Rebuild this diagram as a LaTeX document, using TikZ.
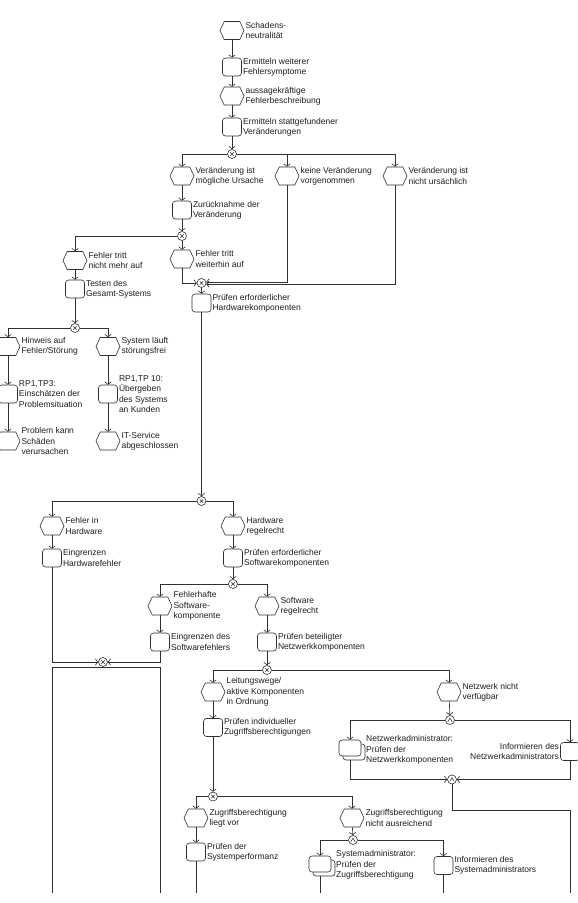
\documentclass[tikz,border=0pt]{standalone}
\usepackage{fontspec}
\setmainfont{Liberation Sans}
\usetikzlibrary{arrows.meta,shapes.symbols}
\definecolor{lc}{HTML}{303030}
\definecolor{tc}{HTML}{1E1E1E}
\newcommand{\epcfont}{\fontsize{8.5}{10.3}\selectfont}
\begin{document}
\begin{tikzpicture}[x=1pt,y=-1pt,
  ev/.style={draw=lc, fill=white, line width=0.6pt, signal, signal to=east and west, signal pointer angle=130, minimum width=24pt, minimum height=18pt, inner sep=0pt},
  fn/.style={draw=lc, fill=white, line width=0.6pt, rounded corners=3pt, minimum width=19pt, minimum height=18pt, inner sep=0pt},
  fns/.style={fn, minimum width=22pt, minimum height=16pt},
  lbl/.style={anchor=west, align=left, inner sep=1pt, font=\epcfont, text=tc},
  lblr/.style={anchor=east, align=right, inner sep=1pt, font=\epcfont, text=tc},
  con/.style={draw=lc, fill=white, circle, line width=0.6pt, minimum size=9pt, inner sep=0pt},
  xorc/.style={con, path picture={\draw[lc, line width=0.55pt] ([shift={(-1.7pt,-1.7pt)}]path picture bounding box.center) -- ++(3.4pt,3.4pt) ([shift={(-1.7pt,1.7pt)}]path picture bounding box.center) -- ++(3.4pt,-3.4pt);}},
  andc/.style={con, path picture={\draw[lc, line width=0.55pt] ([shift={(-2.2pt,-1.8pt)}]path picture bounding box.center) -- ++(2.2pt,3.6pt) -- ++(2.2pt,-3.6pt);}},
  ln/.style={draw=lc, line width=0.6pt},
  ar/.style={ln, -{Straight Barb[length=2.5pt,width=6.5pt]}}
]
\clip (0,0) rectangle (578,903);
\fill[white] (0,0) rectangle (578,903);

% ---------- main column top ----------
\node[ev] (e1) at (232,30.5) {};
\node[lbl] (te1) at (e1.east) {Schadens-\\neutralität};
\node[fn] (f1) at (232,67) {};
\node[lbl] (tf1) at (f1.east) {Ermitteln weiterer\\Fehlersymptome};
\node[ev] (e2) at (232,96) {};
\node[lbl] (te2) at (e2.east) {aussagekräftige\\Fehlerbeschreibung};
\node[fn] (f2) at (232,127) {};
\node[lbl] (tf2) at (f2.east) {Ermitteln stattgefundener\\Veränderungen};
\node[xorc] (x1) at (232,154) {};

\node[ev] (e3) at (182,176) {};
\node[lbl] (te3) at (e3.east) {Veränderung ist\\mögliche Ursache};
\node[ev] (e4) at (287,176) {};
\node[lbl] (te4) at (e4.east) {keine Veränderung\\vorgenommen};
\node[ev] (e5) at (395,176) {};
\node[lbl] (te5) at (e5.east) {Veränderung ist\\nicht ursächlich};

\node[fn] (f3) at (182,210) {};
\node[lbl] (tf3) at (f3.east) {Zurücknahme der\\Veränderung};
\node[xorc] (x2) at (182,236) {};
\node[ev] (e6) at (182,259) {};
\node[lbl] (te6) at (e6.east) {Fehler tritt\\weiterhin auf};
\node[xorc] (x3) at (201.5,283) {};
\node[fn] (f4) at (201.5,303) {};
\node[lbl] (tf4) at (f4.east) {Prüfen erforderlicher\\Hardwarekomponenten};

% ---------- left upper branch ----------
\node[ev] (e7) at (75,260.5) {};
\node[lbl] (te7) at (e7.east) {Fehler tritt\\nicht mehr auf};
\node[fn] (f5) at (75,289) {};
\node[lbl] (tf5) at (f5.east) {Testen des\\Gesamt-Systems};
\node[xorc] (x4) at (75,328) {};
\node[ev] (e8) at (8,346.5) {};
\node[lbl] (te8) at (e8.east) {Hinweis auf\\Fehler/Störung};
\node[ev] (e9) at (108,346.5) {};
\node[lbl] (te9) at (e9.east) {System läuft\\störungsfrei};
\node[fn] (f6) at (8,394) {};
\node[lbl] (tf6) at (f6.east) {RP1,TP3:\\Einschätzen der\\Problemsituation};
\node[fn] (f7) at (108,394) {};
\node[lbl] (tf7) at (f7.east) {RP1,TP 10:\\Übergeben\\des Systems\\an Kunden};
\node[ev] (e10) at (8,441) {};
\node[lbl] (te10) at (e10.east) {Problem kann\\Schäden\\verursachen};
\node[ev] (e11) at (108,441) {};
\node[lbl] (te11) at (e11.east) {IT-Service\\abgeschlossen};

% ---------- lower part ----------
\node[xorc] (x5) at (201.5,501) {};
\node[ev] (e12) at (52,526) {};
\node[lbl] (te12) at (e12.east) {Fehler in\\Hardware};
\node[fn] (f8) at (52,558) {};
\node[lbl] (tf8) at (f8.east) {Eingrenzen\\Hardwarefehler};
\node[ev] (e13) at (233,526) {};
\node[lbl] (te13) at (e13.east) {Hardware\\regelrecht};
\node[fn] (f9) at (233,558) {};
\node[lbl] (tf9) at (f9.east) {Prüfen erforderlicher\\Softwarekomponenten};
\node[xorc] (x6) at (233,584) {};
\node[ev] (e14) at (160,606) {};
\node[lbl] (te14) at (e14.east) {Fehlerhafte\\Software-\\komponente};
\node[fn] (f10) at (160,642) {};
\node[lbl] (tf10) at (f10.east) {Eingrenzen des\\Softwarefehlers};
\node[ev] (e15) at (267,606) {};
\node[lbl] (te15) at (e15.east) {Software\\regelrecht};
\node[fn] (f11) at (267,642) {};
\node[lbl] (tf11) at (f11.east) {Prüfen beteiligter\\Netzwerkkomponenten};
\node[xorc] (x7) at (103,662) {};
\node[xorc] (x8) at (267,670) {};

\node[ev] (e16) at (213,692) {};
\node[lbl] (te16) at (e16.east) {Leitungswege/\\aktive Komponenten\\in Ordnung};
\node[ev] (e17) at (449,692) {};
\node[lbl] (te17) at (e17.east) {Netzwerk nicht\\verfügbar};
\node[fn] (f12) at (213,727.5) {};
\node[lbl] (tf12) at (f12.east) {Prüfen individueller\\Zugriffsberechtigungen};
\node[andc] (a1) at (450,720) {};

\node[fns] (f13b) at (354,752) {};
\node[fns] (f13) at (350,748) {};
\node[lbl] (tf13) at (365,750) {Netzwerkadministrator:\\Prüfen der\\Netzwerkkomponenten};
\node[fn] (f14) at (570,751.5) {};
\node[lblr] (tf14) at (f14.west) {Informieren des\\Netzwerkadministrators};
\node[andc] (a2) at (452,779.5) {};

\node[xorc] (x9) at (213,796.5) {};
\node[ev] (e18) at (196,818) {};
\node[lbl] (te18) at (e18.east) {Zugriffsberechtigung\\liegt vor};
\node[ev] (e19) at (352,818) {};
\node[lbl] (te19) at (e19.east) {Zugriffsberechtigung\\nicht ausreichend};
\node[fn] (f15) at (196,852) {};
\node[lbl] (tf15) at (f15.east) {Prüfen der\\Systemperformanz};
\node[andc] (a3) at (353,840) {};
\node[fns] (f16b) at (324,868) {};
\node[fns] (f16) at (320,864) {};
\node[lbl] (tf16) at (335,865) {Systemadministrator:\\Prüfen der\\Zugriffsberechtigung};
\node[fn] (f17) at (443.5,865.5) {};
\node[lbl] (tf17) at (f17.east) {Informieren des\\Systemadministrators};

% free line ends
\coordinate (k1) at (570,810);
\coordinate (b1) at (52,893);
\coordinate (b2) at (160,893);
\coordinate (b3) at (196,893);
\coordinate (b4) at (320,893);
\coordinate (b5) at (443.5,893);
\coordinate (b6) at (570,893);
\coordinate (m1) at (52,667);
\coordinate (m2) at (160,667);

% ---------- connectors ----------
\draw[ar] (e1) -- (f1);
\draw[ar] (f1) -- (e2);
\draw[ar] (e2) -- (f2);
\draw[ar] (f2) -- (x1);
\draw[ar] (x1) -| (e3);
\draw[ar] (x1) -| (e4);
\draw[ar] (x1) -| (e5);
\draw[ar] (e3) -- (f3);
\draw[ar] (f3) -- (x2);
\draw[ar] (x2) -- (e6);
\draw[ar] (x2) -| (e7);
\draw[ar] (e6) |- (x3);
\draw[ar] (e4.south) |- ([yshift=1pt]x3.east);
\draw[ar] (e5.south) |- ([yshift=-1pt]x3.east);
\draw[ar] (x3) -- (f4);
\draw[ar] (f4) -- (x5);

\draw[ar] (e7) -- (f5);
\draw[ar] (f5) -- (x4);
\draw[ar] (x4) -| (e8);
\draw[ar] (x4) -| (e9);
\draw[ar] (e8) -- (f6);
\draw[ar] (f6) -- (e10);
\draw[ar] (e9) -- (f7);
\draw[ar] (f7) -- (e11);

\draw[ar] (x5) -| (e12);
\draw[ar] (x5) -| (e13);
\draw[ar] (e12) -- (f8);
\draw[ar] (e13) -- (f9);
\draw[ar] (f9) -- (x6);
\draw[ar] (x6) -| (e14);
\draw[ar] (x6) -| (e15);
\draw[ar] (e14) -- (f10);
\draw[ar] (e15) -- (f11);
\draw[ar] (f11) -- (x8);
\draw[ar] (f8) |- (x7);
\draw[ar] (f10) |- (x7);
\draw[ln] (b1) -- (m1) -- (m2) -- (b2);

\draw[ar] (x8) -| (e16);
\draw[ar] (x8) -| (e17);
\draw[ar] (e16) -- (f12);
\draw[ar] (e17) -- (a1);
\draw[ar] (a1) -| (f13);
\draw[ar] (a1) -| (f14);
\draw[ar] (f13b.south -| f13.south) |- (a2);
\draw[ar] (f14) |- (a2);
\draw[ln] (a2) |- (k1) -- (b6);
\draw[ar] (f12) -- (x9);

\draw[ar] (x9) -| (e18);
\draw[ar] (x9) -| (e19);
\draw[ar] (e18) -- (f15);
\draw[ar] (e19) -- (a3);
\draw[ar] (a3) -| (f16);
\draw[ar] (a3) -| (f17);
\draw[ln] (f15) -- (b3);
\draw[ln] (f16b.south -| f16.south) -- (b4);
\draw[ln] (f17) -- (b5);
\end{tikzpicture}
\end{document}
